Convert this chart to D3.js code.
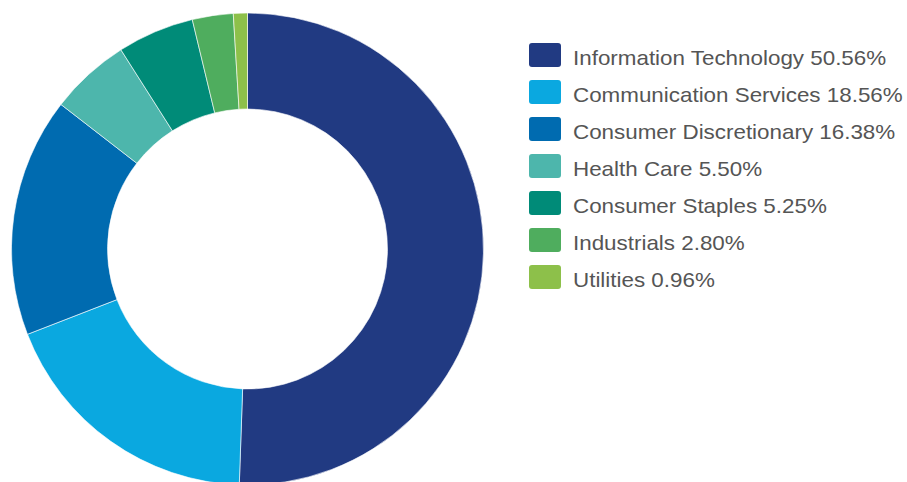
<!DOCTYPE html>
<html>
<head>
<meta charset="utf-8">
<script src="https://cdn.jsdelivr.net/npm/d3@7"></script>
<style>
  body { margin: 0; background: #fff; }
  svg { display: block; }
</style>
</head>
<body>
<svg></svg>
<script>
var width = 907;
var height = 482;

// sector weights
var sectors = ['Information Technology', 'Communication Services', 'Consumer Discretionary', 'Health Care', 'Consumer Staples', 'Industrials', 'Utilities'];
var weights = [50.56, 18.56, 16.38, 5.50, 5.25, 2.80, 0.96];
var colors = ['#213a82', '#0aa8e0', '#006bb0', '#4db6ac', '#008b78', '#4fad5e', '#8dc04a'];

var data = sectors.map((s, i) => ({sector: s, weight: weights[i]}));

var colorScale = d3.scaleOrdinal()
                    .domain(sectors)
                    .range(colors);

var svg = d3.select('svg')
            .attr('width', width)
            .attr('height', height);

var cx = 247.5, cy = 249;

var arcs = d3.pie()
            .value(d => d.weight)
            .sort(null)
            (data);

var path = d3.arc()
            .outerRadius(236)
            .innerRadius(140);

svg.append('g')
    .attr('transform', `translate(${cx}, ${cy})`)
    .selectAll('path')
    .data(arcs)
    .enter()
    .append('path')
        .attr('fill', d => colorScale(d.data.sector))
        .attr('stroke', '#fff')
        .attr('stroke-width', 0.6)
        .attr('d', path);

// Legend
var legend = svg.append('g')
    .attr('transform', 'translate(529, 43)');

var rows = legend.selectAll('.row')
    .data(data)
    .enter()
    .append('g')
        .classed('row', true)
        .attr('transform', (d, i) => `translate(0, ${i * 37})`);

rows.append('rect')
    .attr('width', 32)
    .attr('height', 24)
    .attr('rx', 3)
    .attr('fill', d => colorScale(d.sector));

// the original legend font is a bit wider than Arial, so stretch it
rows.append('text')
    .attr('transform', 'translate(44, 22) scale(1.12, 1)')
    .style('font-family', 'Liberation Sans, Arial, sans-serif')
    .style('font-size', '20px')
    .style('fill', '#555')
    .text(d => `${d.sector} ${d.weight.toFixed(2)}%`);
</script>
</body>
</html>
